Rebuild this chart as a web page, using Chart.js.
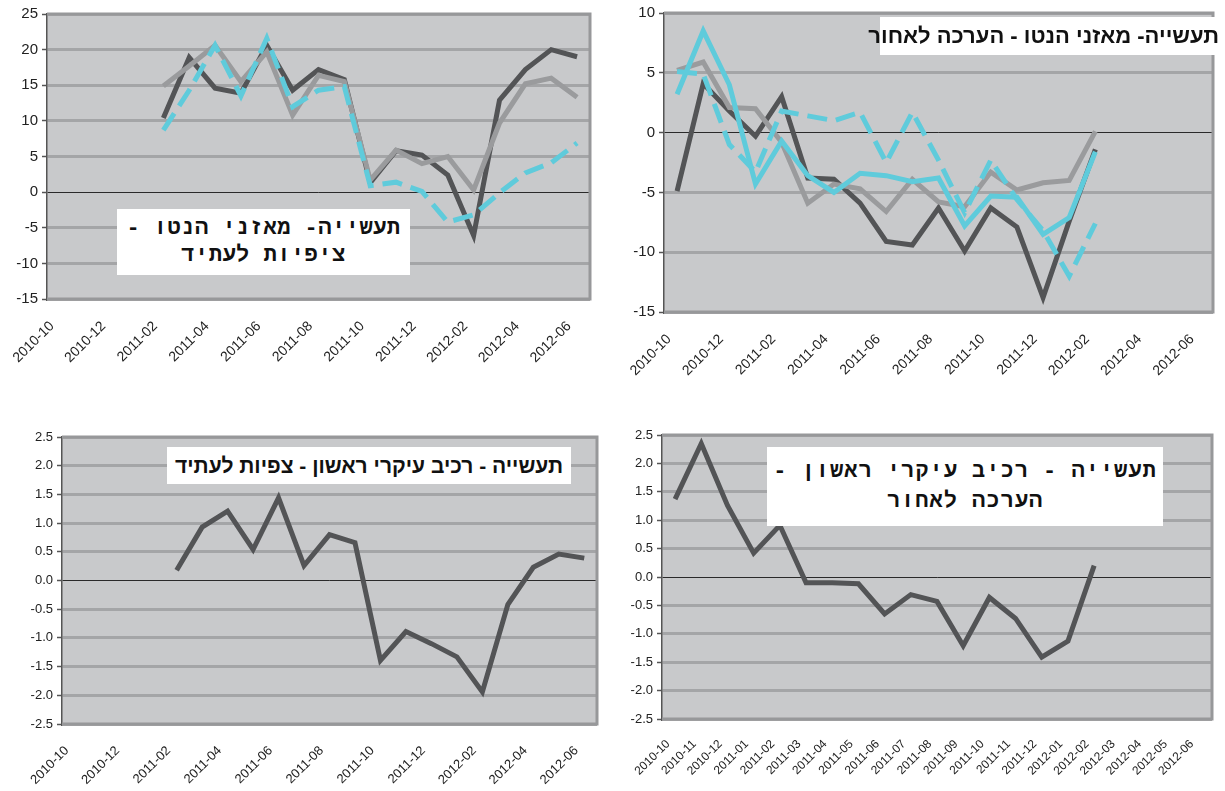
<!DOCTYPE html>
<html lang="he">
<head>
<meta charset="utf-8">
<script src="https://cdn.jsdelivr.net/npm/chart.js@4.4.1/dist/chart.umd.min.js"></script>
<style>
  body { margin: 0; background: #fff; width: 1225px; height: 791px; position: relative; overflow: hidden; }
  .box { position: absolute; }
  .box canvas { display: block; }
  .title { position: absolute; background: #fff; color: #111; direction: rtl; text-align: center; white-space: nowrap; }
  .mono { font-family: "Liberation Mono", "DejaVu Sans Mono", monospace; font-weight: bold; font-size: 22px; line-height: 27px; }
  .sans { font-family: "Liberation Sans Narrow", "Liberation Sans", Arial, sans-serif; font-weight: bold; font-size: 22px; }
</style>
</head>
<body>
<div class="box" style="left:0;top:0"><canvas id="c1" width="605" height="385"></canvas></div>
<div class="box" style="left:610px;top:0"><canvas id="c2" width="615" height="385"></canvas></div>
<div class="box" style="left:0;top:420px"><canvas id="c3" width="610" height="371"></canvas></div>
<div class="box" style="left:610px;top:420px"><canvas id="c4" width="615" height="371"></canvas></div>

<div class="title mono" style="left:117px;top:209px;width:293px;height:66px;padding-top:6px;box-sizing:border-box;letter-spacing:0.5px">תעשייה- מאזני הנטו -<br>ציפיות לעתיד</div>
<div class="title sans" style="left:880px;top:17px;width:345px;height:38px;line-height:38px;text-align:right;padding-right:6px;box-sizing:border-box">תעשייה- מאזני הנטו - הערכה לאחור</div>
<div class="title sans" style="left:167px;top:447px;width:404px;height:37px;line-height:37px;font-size:21px">תעשייה - רכיב עיקרי ראשון - צפיות לעתיד</div>
<div class="title mono" style="left:767px;top:447px;width:396px;height:79px;padding-top:10px;box-sizing:border-box;font-size:22px;line-height:30px;letter-spacing:1px">תעשייה - רכיב עיקרי ראשון -<br>הערכה לאחור</div>

<script>
// months on the x axis
const months = ["2010-10","2010-11","2010-12","2011-01","2011-02","2011-03","2011-04","2011-05","2011-06",
  "2011-07","2011-08","2011-09","2011-10","2011-11","2011-12","2012-01","2012-02","2012-03","2012-04","2012-05","2012-06"];

// net balances, expectations (2011-02 .. 2012-06)
const fwdDark  = [10.4, 18.9, 14.6, 13.9, 20.6, 14.3, 17.2, 15.8, 1.3, 5.8, 5.2, 2.4, -6.1, 12.9, 17.2, 20.0, 19.0];
const fwdGray  = [14.9, 17.7, 20.6, 15.5, 19.7, 10.8, 16.4, 15.5, 1.7, 5.9, 4.0, 5.0, 0.3, 9.7, 15.2, 16.0, 13.3];
const fwdCyan  = [8.7, 14.3, 20.6, 13.5, 21.6, 12.0, 14.3, 14.8, 0.9, 1.4, 0.1, -4.2, -3.2, -0.1, 2.7, 4.1, 6.9];

// net balances, backward assessment (2010-10 .. 2012-02)
const backDark = [-4.9, 4.1, 1.8, -0.3, 3.0, -3.8, -3.9, -5.9, -9.1, -9.4, -6.3, -9.9, -6.3, -7.9, -13.8, -7.4, -1.4];
const backGray = [5.2, 5.9, 2.1, 2.0, -0.8, -5.9, -4.3, -4.7, -6.6, -3.9, -5.8, -6.2, -3.3, -4.8, -4.2, -4.0, 0.1];
const backCyan = [3.2, 8.5, 4.0, -4.3, -0.7, -3.6, -5.0, -3.4, -3.6, -4.1, -3.8, -7.8, -5.3, -5.4, -8.5, -7.1, -1.6];
const backCyanDash = [5.1, 4.9, -1.0, -3.3, 1.8, 1.4, 1.0, 1.7, -2.5, 1.7, -2.3, -6.7, -2.3, -5.6, -8.2, -12.0, -7.6];

// first principal component
const pcFwd  = [0.18, 0.93, 1.21, 0.54, 1.44, 0.26, 0.80, 0.66, -1.39, -0.89, -1.10, -1.33, -1.94, -0.42, 0.23, 0.46, 0.39];
const pcBack = [1.37, 2.35, 1.26, 0.42, 0.91, -0.10, -0.10, -0.12, -0.65, -0.31, -0.43, -1.21, -0.36, -0.73, -1.41, -1.13, 0.20];

const DARK = "#535456", GRAY = "#9a9b9d", CYAN = "#5fcbdb";

function fromFeb(arr) { return [null, null, null, null].concat(arr); }

const plotBg = {
  id: "plotBg",
  beforeDraw(chart) {
    const { ctx, chartArea: a } = chart;
    ctx.save();
    ctx.fillStyle = "#c8c9cb";
    ctx.fillRect(a.left, a.top, a.right - a.left, a.bottom - a.top);
    ctx.restore();
  },
  beforeDatasetsDraw(chart) {
    const { ctx, chartArea: a } = chart;
    ctx.save();
    ctx.strokeStyle = "#97989a";
    ctx.lineWidth = 3;
    ctx.beginPath();
    ctx.moveTo(a.left, a.top);
    ctx.lineTo(a.right, a.top);
    ctx.lineTo(a.right, a.bottom);
    ctx.lineTo(a.left, a.bottom);
    ctx.stroke();
    ctx.restore();
  }
};

function line(data, color, dashed) {
  return {
    data: data,
    borderColor: color,
    borderWidth: 5,
    borderDash: dashed ? [20, 9] : [],
    pointRadius: 0,
    tension: 0,
    fill: false,
    spanGaps: false
  };
}

function makeChart(id, datasets, o) {
  new Chart(document.getElementById(id), {
    type: "line",
    data: { labels: months, datasets: datasets },
    plugins: [plotBg],
    options: {
      responsive: false,
      animation: false,
      events: [],
      layout: { autoPadding: false, padding: { top: o.top, right: o.right, left: 0, bottom: 0 } },
      plugins: { legend: { display: false }, tooltip: { enabled: false } },
      scales: {
        x: {
          offset: true,
          grid: { display: false },
          border: { display: false },
          afterFit: (s) => { s.height = o.xh; },
          ticks: {
            autoSkip: false,
            minRotation: 45,
            maxRotation: 45,
            padding: o.xpad,
            labelOffset: o.xoff,
            color: "#222",
            font: { family: "Liberation Sans, Arial", size: o.xfont },
            callback: function (v, i) { return (i % o.every === 0) ? months[i] : ""; }
          }
        },
        y: {
          min: o.min, max: o.max,
          afterFit: (s) => { s.width = o.yw; },
          border: { display: true, color: "#555", width: 1.5 },
          grid: {
            color: (c) => c.tick.value === 0 ? "#2a2a2a" : "#a4a5a7",
            lineWidth: (c) => c.tick.value === 0 ? 1 : 3,
            tickColor: "#555",
            tickWidth: 1.5,
            tickLength: 5
          },
          ticks: {
            stepSize: o.step,
            padding: 4,
            color: "#222",
            font: { family: "Liberation Sans, Arial", size: o.yfont },
            callback: (v) => o.dec ? v.toFixed(1) : v
          }
        }
      }
    }
  });
}

makeChart("c1", [
  line(fromFeb(fwdCyan), CYAN, true),
  line(fromFeb(fwdGray), GRAY, false),
  line(fromFeb(fwdDark), DARK, false)
], { top: 14, right: 15, xh: 86, yw: 47, min: -15, max: 25, step: 5, dec: false, every: 2, xfont: 14, yfont: 15, xpad: 11, xoff: -8 });

makeChart("c2", [
  line(backCyanDash, CYAN, true),
  line(backCyan, CYAN, false),
  line(backGray, GRAY, false),
  line(backDark, DARK, false)
], { top: 9, right: 12, xh: 73, yw: 54, min: -15, max: 10, step: 5, dec: false, every: 2, xfont: 14, yfont: 15, xpad: 11, xoff: -8 });

makeChart("c3", [
  line(fromFeb(pcFwd), DARK, false)
], { top: 17, right: 13, xh: 67, yw: 62, min: -2.5, max: 2.5, step: 0.5, dec: true, every: 2, xfont: 13, yfont: 13, xpad: 11, xoff: -8 });

makeChart("c4", [
  line(pcBack, DARK, false)
], { top: 15, right: 13, xh: 72, yw: 52, min: -2.5, max: 2.5, step: 0.5, dec: true, every: 1, xfont: 12, yfont: 13, xpad: 10, xoff: -7 });
</script>
</body>
</html>
